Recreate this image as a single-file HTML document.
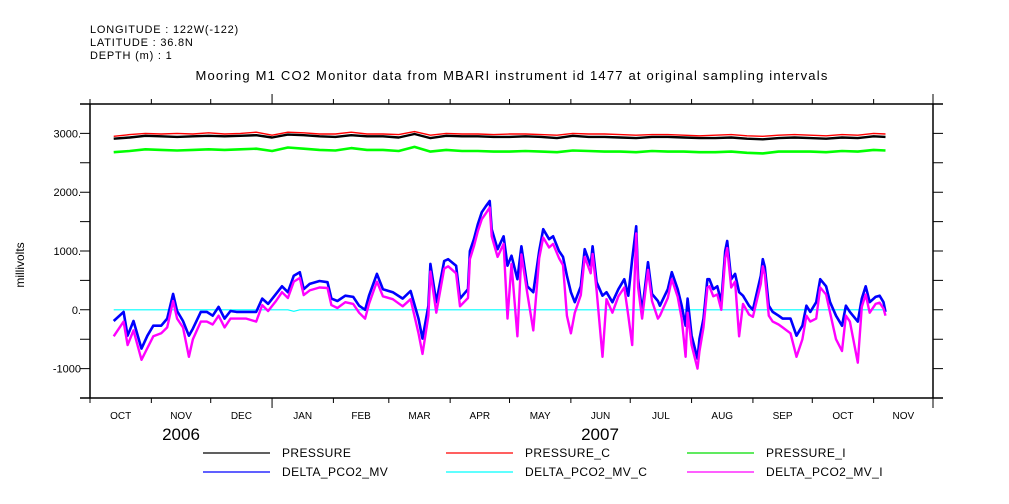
<!DOCTYPE html>
<html><head><meta charset="utf-8"><style>
html,body{margin:0;padding:0;background:#fff;}
svg{display:block;font-family:"Liberation Sans",sans-serif;}
</style></head><body>
<svg id="chart" width="1009" height="504" viewBox="0 0 1009 504" xmlns="http://www.w3.org/2000/svg">
<g font-size="11" fill="#000" letter-spacing="0.8">
<text x="90" y="33">LONGITUDE : 122W(-122)</text>
<text x="90" y="46">LATITUDE : 36.8N</text>
<text x="90" y="59">DEPTH (m) : 1</text>
<text x="512" y="80" text-anchor="middle" font-size="13" letter-spacing="1.2">Mooring M1 CO2 Monitor data from MBARI instrument id 1477 at original sampling intervals</text>
</g>
<text x="24" y="265" font-size="12" text-anchor="middle" transform="rotate(-90 24 265)">millivolts</text>
<g id="axes"></g>
<g id="series"></g>
<g id="legend" font-size="12" letter-spacing="0.4"></g>
</svg>
<script>
// days since 2006-10-01
const monthStarts = [0,31,61,92,123,151,182,212,243,273,304,335,365,396,426];
const monthLabels = ["OCT","NOV","DEC","JAN","FEB","MAR","APR","MAY","JUN","JUL","AUG","SEP","OCT","NOV"];
const yTicks = [-1500,-1000,-500,0,500,1000,1500,2000,2500,3000,3500];
const yLabels = [-1000,0,1000,2000,3000];
const yLabelText = ["-1000","0.","1000.","2000.","3000."];

const deltaDays = [12,17,19,22,26,29,32,36,39,42,44,47,50,52,56,59,62,65,68,71,74,79,84,87,90,94,97,100,103,106,108,111,116,120,122,125,129,133,136,139,141,145,148,153,158,162,166,168,171,172,175,179,181,185,187,191,192,194,196,198,200,202,203,206,209,211,213,216,218,221,224,227,229,232,234,237,239,241,243,245,248,250,253,254,256,259,261,264,267,270,272,274,276,277,279,282,284,287,288,292,294,297,299,301,302,304,307,308,310,312,313,315,317,319,321,322,324,326,328,330,333,335,339,340,341,343,345,348,350,354,357,360,362,364,367,369,372,374,377,380,382,384,388,390,392,394,397,399,401,402];
const deltaMV = [-190,-35,-440,-190,-660,-440,-270,-270,-150,270,-20,-190,-440,-320,-35,-35,-100,50,-150,-20,-35,-35,-35,190,100,270,400,300,580,640,350,440,490,470,190,150,240,220,70,0,240,610,350,300,190,320,-150,-490,70,780,130,830,860,750,190,350,1000,1200,1460,1660,1760,1850,1370,1030,1250,750,920,520,1080,400,300,1000,1370,1200,1250,1000,900,580,300,130,400,1030,750,1080,470,240,300,130,350,520,240,860,1420,520,-35,810,270,150,70,350,640,350,70,-270,190,-440,-830,-490,-150,520,520,350,400,130,1000,1170,520,610,300,240,70,0,580,860,730,70,-35,-100,-150,-150,-440,-270,70,-35,130,520,400,130,-100,-270,70,-35,-200,190,400,130,220,240,130,-35];
const deltaMVI = [-450,-200,-600,-350,-850,-650,-450,-400,-300,150,-150,-300,-800,-500,-200,-200,-250,-100,-300,-150,-150,-150,-200,80,-20,150,300,200,480,540,250,330,380,370,80,30,130,100,-50,-150,100,480,230,180,60,180,-400,-750,-100,650,-50,700,740,620,60,200,860,1080,1340,1540,1640,1740,1250,900,1120,-150,780,-450,940,280,-350,880,1230,1060,1120,880,760,-100,-400,-50,250,900,620,950,330,-800,180,-50,230,380,-100,-600,1300,380,-150,680,150,-150,-100,200,520,220,-150,-800,-50,-600,-1000,-700,-300,380,400,230,260,0,880,1050,380,480,-450,100,-80,-120,440,740,600,-100,-200,-250,-300,-400,-800,-500,-100,-200,-150,380,260,-50,-500,-700,-100,-200,-900,50,260,-50,100,120,20,-100];

const pressDays = [12,20,28,36,44,52,60,68,76,84,92,100,108,116,124,132,140,148,156,164,172,180,188,196,204,212,220,228,236,244,252,260,268,276,284,292,300,308,316,324,332,340,348,356,364,372,380,388,396,402];
const pressure = [2910,2930,2960,2950,2940,2950,2960,2950,2960,2970,2930,2980,2970,2950,2940,2970,2950,2950,2930,2990,2920,2960,2950,2950,2940,2940,2950,2940,2920,2960,2940,2940,2930,2920,2940,2940,2930,2920,2920,2930,2910,2900,2920,2930,2920,2910,2930,2920,2950,2940];
const pressureC = [2950,2980,3000,2990,3000,2990,3010,2990,3000,3020,2970,3020,3010,2990,2990,3020,2990,2990,2980,3030,2970,3000,2990,2990,2980,2990,2990,2980,2970,3000,2990,2990,2980,2970,2980,2980,2970,2960,2970,2980,2960,2950,2970,2980,2970,2960,2980,2970,3000,2990];
const pressureI = [2680,2700,2730,2720,2710,2720,2730,2720,2730,2740,2700,2760,2740,2720,2710,2750,2720,2720,2700,2770,2690,2720,2700,2700,2690,2690,2700,2690,2680,2710,2700,2690,2690,2680,2700,2690,2690,2680,2680,2690,2670,2660,2690,2690,2690,2680,2700,2690,2720,2710];

const deltaCDays = [12,100,103,106,402];
const deltaC = [0,0,-25,0,0];

const X0=90,X1=933,Y0=104,Y1=398,D0=0,D1=426,V0=-1500,V1=3500;
const xs=d=>X0+(d-D0)/(D1-D0)*(X1-X0);
const ys=v=>Y1-(v-V0)/(V1-V0)*(Y1-Y0);
const NS="http://www.w3.org/2000/svg";
function mk(tag,attrs,parent){const e=document.createElementNS(NS,tag);for(const k in attrs)e.setAttribute(k,attrs[k]);parent.appendChild(e);return e;}
const axes=document.getElementById('axes');
let f=mk('path',{d:`M80 ${Y0}H943M80 ${Y1}H943M${X0} ${Y0}V${Y1}M${X1} ${Y0}V${Y1}`,stroke:'#000','stroke-width':1.5,fill:'none'},axes);


monthStarts.forEach((d,i)=>{
  const x=xs(d); const major=(d===92||d===426);
  const t=mk('path',{d:`M${x} ${Y1}V${Y1+(major?10:5)}M${x} ${Y0}V${Y0-(major?10:5)}`,stroke:'#000','stroke-width':1},axes);
  
  
  if(i<monthLabels.length){
    const lb=mk('text',{x:(xs(d)+xs(monthStarts[i+1]))/2,y:419,'font-size':10,'text-anchor':'middle'},axes);
    lb.textContent=monthLabels[i];
    
    
  }
});
[["2006",181],["2007",600]].forEach(([t,x])=>{const e=mk('text',{x:x,y:440,'font-size':17,'text-anchor':'middle'},axes);e.textContent=t;

});
yTicks.forEach(v=>{const y=ys(v);
  const t=mk('path',{d:`M${X0-10} ${y}H${X0}M${X1} ${y}H${X1+10}`,stroke:'#000','stroke-width':1},axes);
  
  });
yLabels.forEach((v,i)=>{const e=mk('text',{x:81,y:ys(v)+4,'font-size':11,'text-anchor':'end'},axes);e.textContent=yLabelText[i];

});

const ser=document.getElementById('series');
function line(days,vals,color,w,name){
  const pts=days.map((d,i)=>xs(d).toFixed(1)+','+ys(vals[i]).toFixed(1)).join(' ');
  const p=mk('polyline',{points:pts,fill:'none',stroke:color,'stroke-width':w,'stroke-linejoin':'round'},ser);
  
  
}
line(pressDays,pressureC,'#ff0000',1.4,'pressure-c-line');
line(pressDays,pressure,'#000000',2.4,'pressure-line');
line(pressDays,pressureI,'#00ff00',2.6,'pressure-i-line');
line(deltaCDays,deltaC,'#00ffff',1.2,'delta-pco2-mv-c-line');
line(deltaDays,deltaMV,'#0000ff',2.6,'delta-pco2-mv-line');
line(deltaDays,deltaMVI,'#ff00ff',2.4,'delta-pco2-mv-i-line');

const leg=document.getElementById('legend');
const legItems=[["PRESSURE","#000",203,457],["PRESSURE_C","#ff0000",446,457],["PRESSURE_I","#00dd00",687,457],["DELTA_PCO2_MV","#0000ff",203,476],["DELTA_PCO2_MV_C","#00ffff",446,476],["DELTA_PCO2_MV_I","#ff00ff",687,476]];
legItems.forEach(([t,c,x,y])=>{
  const g=mk('g',{},leg);
  
  
  mk('line',{x1:x,x2:x+67,y1:y-4,y2:y-4,stroke:c,'stroke-width':1.3},g);
  const e=mk('text',{x:x+79,y:y},g);e.textContent=t;
});
</script>
</body></html>
